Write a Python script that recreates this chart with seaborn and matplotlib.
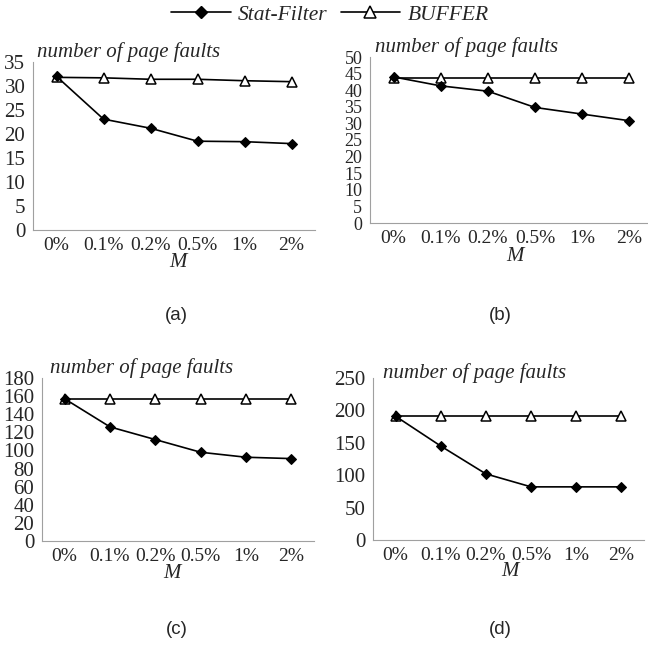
import pandas as pd
import matplotlib.pyplot as plt
import matplotlib.transforms as mtransforms
import seaborn as sns
from matplotlib.lines import Line2D

sns.set_style("white")
plt.rcParams['font.family'] = ['Liberation Serif', 'DejaVu Serif']

# x categories (threshold M)
m_labels = ['0%', '0.1%', '0.2%', '0.5%', '1%', '2%']

# number of page faults
stat_a = [32.0, 23.1, 21.2, 18.5, 18.4, 18.0]
buf_a = [31.8, 31.7, 31.4, 31.4, 31.1, 30.9]
stat_b = [44.0, 41.3, 39.7, 34.8, 32.8, 30.8]
buf_b = [43.7, 43.7, 43.7, 43.7, 43.7, 43.7]
stat_c = [157, 126, 112, 98, 92.5, 91]
buf_c = [157, 157, 157, 157, 157, 157]
stat_d = [191, 145, 102, 82, 82, 82]
buf_d = [191, 191, 191, 191, 191, 191]

panels = [
    ('(a)', stat_a, buf_a, 35, 5),
    ('(b)', stat_b, buf_b, 50, 5),
    ('(c)', stat_c, buf_c, 180, 20),
    ('(d)', stat_d, buf_d, 250, 50),
]

W, H = 648, 647
# axes boxes in pixels: left, top, width, height
boxes = [(33, 62, 282, 168), (370, 57, 283, 166), (42, 378, 272, 163), (373, 378, 271, 162)]
captions = [(176, 315), (500, 315), (177, 630), (500, 630)]
titles = [(37, 57), (375, 52), (50, 373), (383, 378)]
mlabels = [(178, 262), (515, 256), (172, 573), (510, 571)]
ysizes = [15, 13, 15, 15]

fig = plt.figure(figsize=(W / 100, H / 100), dpi=100)
shift = mtransforms.ScaledTranslation(5 / 100, 0, fig.dpi_scale_trans)

for (tag, stat, buf, ymax, step), (l, t, w, h), (cx, cy), (tx, ty), (mx, my), ys in zip(
        panels, boxes, captions, titles, mlabels, ysizes):
    ax = fig.add_axes([l / W, 1 - (t + h) / H, w / W, h / H])
    df = pd.DataFrame({'M': m_labels, 'stat': stat, 'buf': buf})
    sns.lineplot(data=df, x='M', y='buf', sort=False, ax=ax, color='black', lw=1.2,
                 marker='^', markersize=7.5, markerfacecolor='white',
                 markeredgecolor='black', markeredgewidth=1.1)
    sns.lineplot(data=df, x='M', y='stat', sort=False, ax=ax, color='black', lw=1.2,
                 marker='D', markersize=5.5, markerfacecolor='black',
                 markeredgecolor='black')
    ax.set_xlim(-0.5, 5.5)
    ax.set_ylim(0, ymax)
    ax.set_yticks(range(0, ymax + 1, step))
    ax.set_xticks(range(6))
    ax.set_xticklabels(m_labels)
    for lab in ax.get_xticklabels():
        lab.set_transform(lab.get_transform() + shift)
    ax.set_xticks([i - 0.5 for i in range(7)], minor=True)
    ax.tick_params(axis='x', which='major', length=0, pad=5, labelsize=14)
    ax.tick_params(axis='x', which='minor', length=3, color='#a0a0a0', width=0.8)
    ax.tick_params(axis='y', length=2.5, color='#a0a0a0', width=0.8, pad=3, labelsize=ys)
    for s in ['top', 'right']:
        ax.spines[s].set_visible(False)
    for s in ['left', 'bottom']:
        ax.spines[s].set_color('#a0a0a0')
        ax.spines[s].set_linewidth(0.8)
    ax.set_ylabel('')
    ax.set_xlabel('')
    fig.text(tx / W, 1 - ty / H, 'number of page faults', fontstyle='italic',
             fontsize=15, va='baseline', ha='left')
    fig.text(mx / W, 1 - my / H, 'M', fontstyle='italic', fontsize=15,
             va='center', ha='center')
    fig.text(cx / W, 1 - cy / H, tag, ha='center', va='center',
             fontsize=13.5, family='Liberation Sans')

handles = [
    Line2D([], [], color='black', lw=1.2, marker='D', markersize=6.5,
           markerfacecolor='black'),
    Line2D([], [], color='black', lw=1.2, marker='^', markersize=8.5,
           markerfacecolor='white', markeredgecolor='black', markeredgewidth=1.1),
]
fig.legend(handles, ['Stat-Filter', 'BUFFER'], loc='center', bbox_to_anchor=(330 / W, 1 - 15 / H),
           ncol=2, frameon=False, prop={'style': 'italic', 'size': 15.5},
           handlelength=2.75, handletextpad=0.35, columnspacing=0.6,
           borderpad=0, borderaxespad=0)

plt.savefig('out.png', dpi=100)
